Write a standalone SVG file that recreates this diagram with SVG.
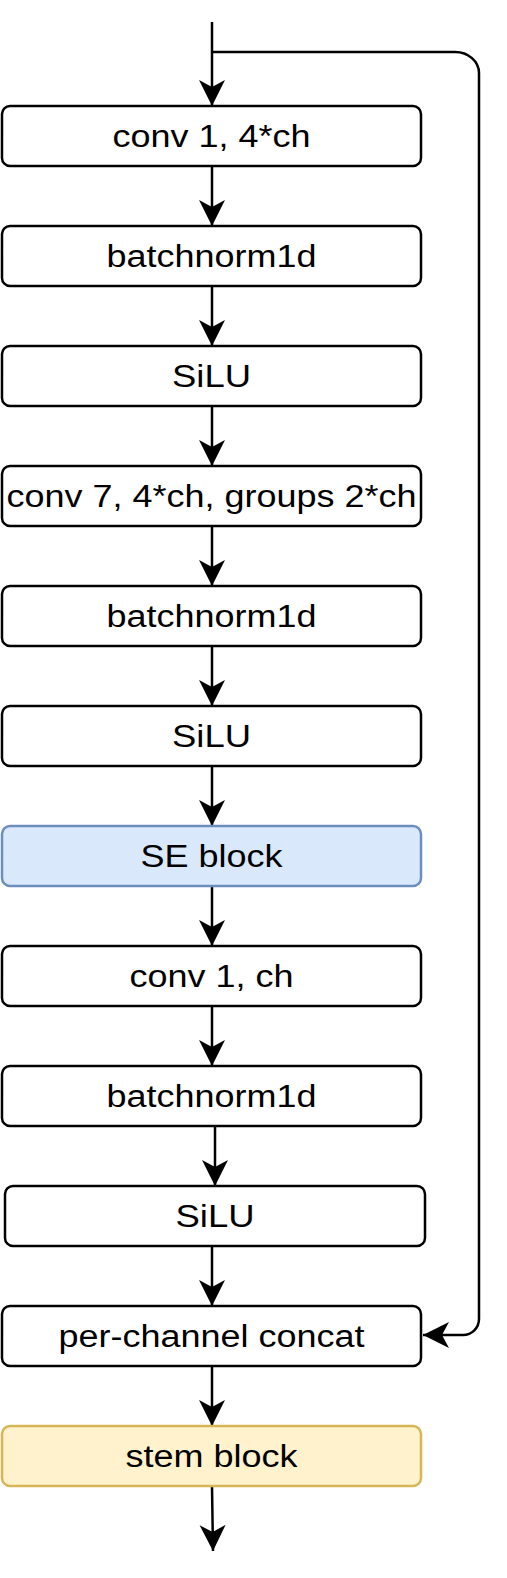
<svg xmlns="http://www.w3.org/2000/svg" width="507" height="1578" viewBox="0 0 507 1578">
<style>
.box{fill:#ffffff;stroke:#000000;stroke-width:2.5}
.se{fill:#dae8fc;stroke:#6c8ebf;stroke-width:2.5}
.stem{fill:#fff2cc;stroke:#d6b656;stroke-width:2.5}
.lbl{font-family:"Liberation Sans",Arial,Helvetica,sans-serif;font-size:31px;fill:#000000;text-anchor:middle}
.edge{fill:none;stroke:#000000;stroke-width:2.5;marker-end:url(#arr)}
</style>
<defs>
<marker id="arr" markerUnits="userSpaceOnUse" markerWidth="30" markerHeight="30" refX="26" refY="13" orient="auto">
<path d="M0,0 L26,13 L0,26 L7,13 Z" fill="#000000"/>
</marker>
</defs>
<g id="connectors">
<path class="edge" d="M212,22 L212,106"/>
<path class="edge" d="M212,52 L455,52 A24,21 0 0 1 479,73 L479,1319 A16,16 0 0 1 463,1335 L423,1335"/>
<path class="edge" d="M212,166 L212,226"/>
<path class="edge" d="M212,286 L212,346"/>
<path class="edge" d="M212,406 L212,466"/>
<path class="edge" d="M212,526 L212,586"/>
<path class="edge" d="M212,646 L212,706"/>
<path class="edge" d="M212,766 L212,826"/>
<path class="edge" d="M212,886 L212,946"/>
<path class="edge" d="M212,1006 L212,1066"/>
<path class="edge" d="M215,1126 L215,1186"/>
<path class="edge" d="M212,1246 L212,1306"/>
<path class="edge" d="M212,1366 L212,1426"/>
<path class="edge" d="M212,1486 L213,1551"/>
</g>
<g id="n1"><rect class="box" x="2" y="106" width="419" height="60" rx="8"/><text class="lbl" x="211.5" y="146.5" textLength="198" lengthAdjust="spacingAndGlyphs">conv 1, 4*ch</text></g>
<g id="n2"><rect class="box" x="2" y="226" width="419" height="60" rx="8"/><text class="lbl" x="211.5" y="266.5" textLength="210" lengthAdjust="spacingAndGlyphs">batchnorm1d</text></g>
<g id="n3"><rect class="box" x="2" y="346" width="419" height="60" rx="8"/><text class="lbl" x="211.5" y="386.5" textLength="79" lengthAdjust="spacingAndGlyphs">SiLU</text></g>
<g id="n4"><rect class="box" x="2" y="466" width="419" height="60" rx="8"/><text class="lbl" x="211.5" y="506.5" textLength="410" lengthAdjust="spacingAndGlyphs">conv 7, 4*ch, groups 2*ch</text></g>
<g id="n5"><rect class="box" x="2" y="586" width="419" height="60" rx="8"/><text class="lbl" x="211.5" y="626.5" textLength="210" lengthAdjust="spacingAndGlyphs">batchnorm1d</text></g>
<g id="n6"><rect class="box" x="2" y="706" width="419" height="60" rx="8"/><text class="lbl" x="211.5" y="746.5" textLength="79" lengthAdjust="spacingAndGlyphs">SiLU</text></g>
<g id="n7"><rect class="se" x="2" y="826" width="419" height="60" rx="8"/><text class="lbl" x="211.5" y="866.5" textLength="142" lengthAdjust="spacingAndGlyphs">SE block</text></g>
<g id="n8"><rect class="box" x="2" y="946" width="419" height="60" rx="8"/><text class="lbl" x="211.5" y="986.5" textLength="164" lengthAdjust="spacingAndGlyphs">conv 1, ch</text></g>
<g id="n9"><rect class="box" x="2" y="1066" width="419" height="60" rx="8"/><text class="lbl" x="211.5" y="1106.5" textLength="210" lengthAdjust="spacingAndGlyphs">batchnorm1d</text></g>
<g id="n10"><rect class="box" x="5" y="1186" width="420" height="60" rx="8"/><text class="lbl" x="215" y="1226.5" textLength="79" lengthAdjust="spacingAndGlyphs">SiLU</text></g>
<g id="n11"><rect class="box" x="2" y="1306" width="419" height="60" rx="8"/><text class="lbl" x="211.5" y="1346.5" textLength="306" lengthAdjust="spacingAndGlyphs">per-channel concat</text></g>
<g id="n12"><rect class="stem" x="2" y="1426" width="419" height="60" rx="8"/><text class="lbl" x="211.5" y="1466.5" textLength="172" lengthAdjust="spacingAndGlyphs">stem block</text></g>
</svg>
